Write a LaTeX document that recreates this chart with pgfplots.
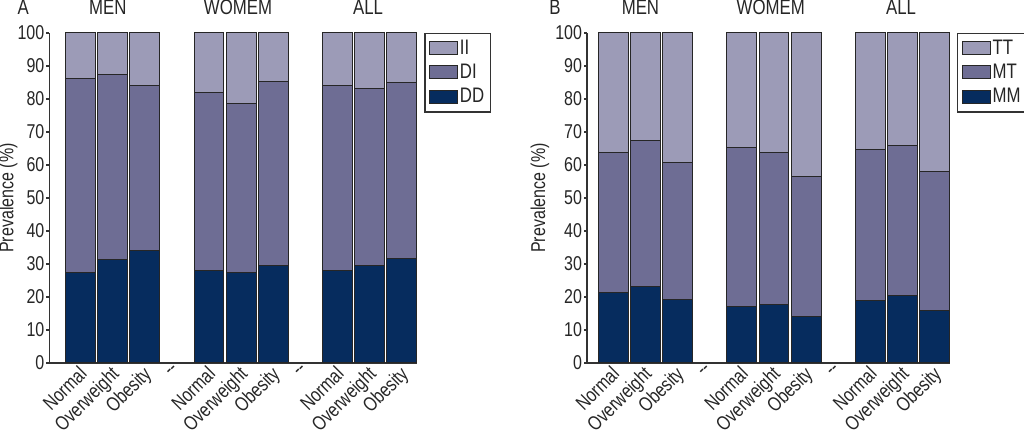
\documentclass[border=0pt]{standalone}
\usepackage{fontspec}
\setmainfont{Liberation Sans}[FakeStretch=0.8]
\usepackage{pgfplots}
\pgfplotsset{compat=1.18}
\usepackage{pgfplotstable}
\definecolor{cDD}{HTML}{062C5E}
\definecolor{cDI}{HTML}{6E6D94}
\definecolor{cII}{HTML}{9C9BB7}
\definecolor{cLine}{HTML}{333333}

\pgfplotstableread{
x DD DI II
0 27.5 58.7 13.8
1 31.3 56.1 12.6
2 34.0 50.1 15.9
4 28.1 54.0 17.9
5 27.5 51.2 21.3
6 29.4 55.8 14.8
8 27.9 56.1 16.0
9 29.6 53.6 16.8
10 31.6 53.4 15.0
}\tabA

\pgfplotstableread{
x MM MT TT
0 21.4 42.4 36.2
1 23.1 44.4 32.5
2 19.2 41.5 39.3
4 17.2 48.1 34.7
5 17.6 46.3 36.1
6 14.0 42.4 43.6
8 18.8 45.8 35.4
9 20.5 45.5 34.0
10 15.8 42.3 41.9
}\tabB

\pgfplotsset{
  panel/.style={
    scale only axis,
    height=165pt,
    ybar stacked,
    bar width=0.93,
    ymin=0, ymax=100,
    axis lines*=left,
    axis line style={cLine, line width=0.6pt},
    ytick={0,10,...,100},
    xtick={0,1,2,3,4,5,6,7,8,9,10},
    xticklabels={Normal,Overweight,Obesity,-{}-,Normal,Overweight,Obesity,-{}-,Normal,Overweight,Obesity},
    x tick style={draw=none},
    y tick style={cLine, line width=0.6pt},
    tick align=outside,
    major tick length=1.5pt,
    /pgf/number format/assume math mode=true,
    tick label style={font=\fontsize{10}{12}\selectfont, text=black!85},
    xticklabel style={rotate=45, anchor=north east, inner sep=0.5pt, yshift=2pt},
    yticklabel style={inner sep=0.8pt},
    ylabel={Prevalence (\%)},
    label style={font=\fontsize{10}{12}\selectfont, text=black!85},
    clip=false,
    reverse legend,
    legend cell align=left,
    legend style={at={(1,1)}, anchor=north west, xshift=3.5pt, draw=cLine, line width=0.6pt,
      font=\fontsize{10.5}{11}\selectfont, text=black!85, inner xsep=2pt, inner ysep=2pt,
      nodes={inner sep=1pt},
      row sep=1.5pt, /tikz/every even column/.append style={column sep=0.5pt}},
    legend image code/.code={\draw[#1, draw=black!85, line width=0.5pt] (0pt,-3pt) rectangle (14pt,3.5pt);},
    every axis plot/.append style={draw=black!85, line width=0.5pt},
  }
}

\begin{document}
\begin{tikzpicture}
\path[use as bounding box] (0,0) rectangle (512pt,215.5pt);
\begin{axis}[panel, at={(24.65pt,34pt)}, anchor=south west,
  width=184pt, xmin=-0.97, xmax=10.48,
  ylabel style={at={(axis description cs:0,0.5)}, anchor=center, yshift=20.5pt}]
\addplot[fill=cDD] table[x=x, y=DD] {\tabA};
\addplot[fill=cDI] table[x=x, y=DI] {\tabA};
\addplot[fill=cII] table[x=x, y=II] {\tabA};
\legend{DD,DI,II}
\node[anchor=base, font=\fontsize{10.5}{12}\selectfont, text=black!85] at (axis cs:0.85,100) [yshift=9pt] {MEN};
\node[anchor=base, font=\fontsize{10.5}{12}\selectfont, text=black!85] at (axis cs:4.9,100) [yshift=9pt] {WOMEM};
\node[anchor=base, font=\fontsize{10.5}{12}\selectfont, text=black!85] at (axis cs:8.95,100) [yshift=9pt] {ALL};
\node[anchor=base, font=\fontsize{10.5}{12}\selectfont, text=black!85] at (axis description cs:0,1) [xshift=-13pt, yshift=9pt] {A};
\end{axis}
\begin{axis}[panel, at={(293.5pt,34pt)}, anchor=south west,
  width=181.5pt, xmin=-0.81, xmax=10.47,
  ylabel style={at={(axis description cs:0,0.5)}, anchor=center, yshift=23.5pt}]
\addplot[fill=cDD] table[x=x, y=MM] {\tabB};
\addplot[fill=cDI] table[x=x, y=MT] {\tabB};
\addplot[fill=cII] table[x=x, y=TT] {\tabB};
\legend{MM,MT,TT}
\node[anchor=base, font=\fontsize{10.5}{12}\selectfont, text=black!85] at (axis cs:0.85,100) [yshift=9pt] {MEN};
\node[anchor=base, font=\fontsize{10.5}{12}\selectfont, text=black!85] at (axis cs:4.9,100) [yshift=9pt] {WOMEM};
\node[anchor=base, font=\fontsize{10.5}{12}\selectfont, text=black!85] at (axis cs:8.95,100) [yshift=9pt] {ALL};
\node[anchor=base, font=\fontsize{10.5}{12}\selectfont, text=black!85] at (axis description cs:0,1) [xshift=-16pt, yshift=9pt] {B};
\end{axis}
\end{tikzpicture}
\end{document}
